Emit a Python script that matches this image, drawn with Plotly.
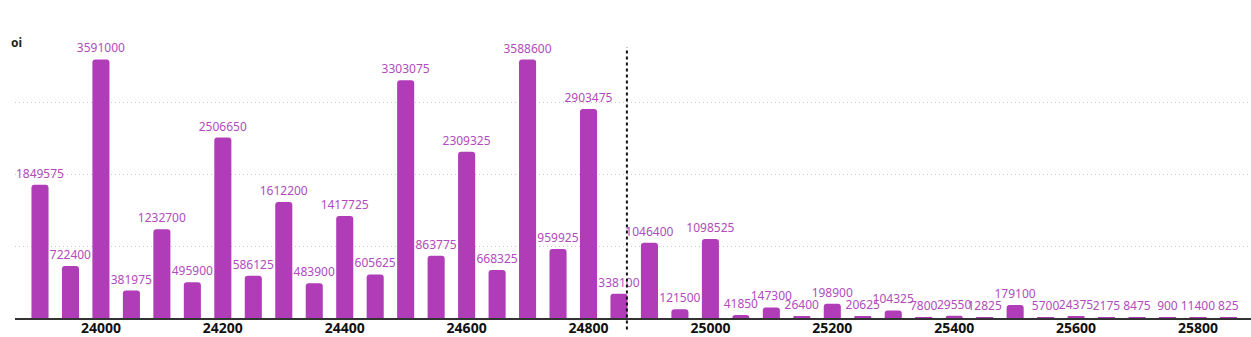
import plotly.graph_objects as go

strikes = [23900, 23950, 24000, 24050, 24100, 24150, 24200, 24250, 24300, 24350,
           24400, 24450, 24500, 24550, 24600, 24650, 24700, 24750, 24800, 24850,
           24900, 24950, 25000, 25050, 25100, 25150, 25200, 25250, 25300, 25350,
           25400, 25450, 25500, 25550, 25600, 25650, 25700, 25750, 25800, 25850]
oi = [1849575, 722400, 3591000, 381975, 1232700, 495900, 2506650, 586125, 1612200, 483900,
      1417725, 605625, 3303075, 863775, 2309325, 668325, 3588600, 959925, 2903475, 338100,
      1046400, 121500, 1098525, 41850, 147300, 26400, 198900, 20625, 104325, 7800,
      29550, 12825, 179100, 5700, 24375, 2175, 8475, 900, 11400, 825]
spot = 24863
x_ticks = [24000, 24200, 24400, 24600, 24800, 25000, 25200, 25400, 25600, 25800]
y_grid = [1000000, 2000000, 3000000]

BAR = "#b03cb8"
LABEL = "#b04cbb"

fig = go.Figure()
fig.add_trace(go.Bar(
    x=strikes, y=oi, width=28,
    marker=dict(color=BAR, line=dict(width=0)),
    text=[str(v) for v in oi], textposition="outside",
    textfont=dict(color=LABEL, size=12, family="Noto Sans"),
    constraintext="none", cliponaxis=False,
))
fig.add_shape(type="line", xref="x", yref="paper", x0=spot, x1=spot, y0=-0.04, y1=0.94,
              line=dict(color="#111111", width=2, dash="dot"))
fig.add_annotation(xref="paper", yref="paper", x=-0.005, y=0.955, xanchor="left", yanchor="middle",
                   text="<b>oi</b>", showarrow=False, font=dict(size=12, color="#222222", family="Noto Sans"))
fig.update_layout(
    width=1251, height=337,
    margin=dict(l=15, r=0, t=30, b=19, autoexpand=False),
    plot_bgcolor="white", paper_bgcolor="white",
    showlegend=False, barcornerradius=3,
)
fig.update_xaxes(range=[23859, 25887], tickvals=x_ticks, ticktext=[f"<b>{t}</b>" for t in x_ticks],
                 tickfont=dict(size=14, color="#111111", family="Noto Sans"), automargin=False,
                 ticklabelstandoff=-4,
                 showgrid=False, showline=True, linecolor="#333333", linewidth=2, ticks="", zeroline=False)
fig.update_yaxes(range=[0, 4000000], tickvals=y_grid, showticklabels=False, showgrid=True, automargin=False,
                 gridcolor="#c8c8c8", griddash="1px,3px", gridwidth=1, zeroline=False, showline=False)
fig.write_html("out.html")
